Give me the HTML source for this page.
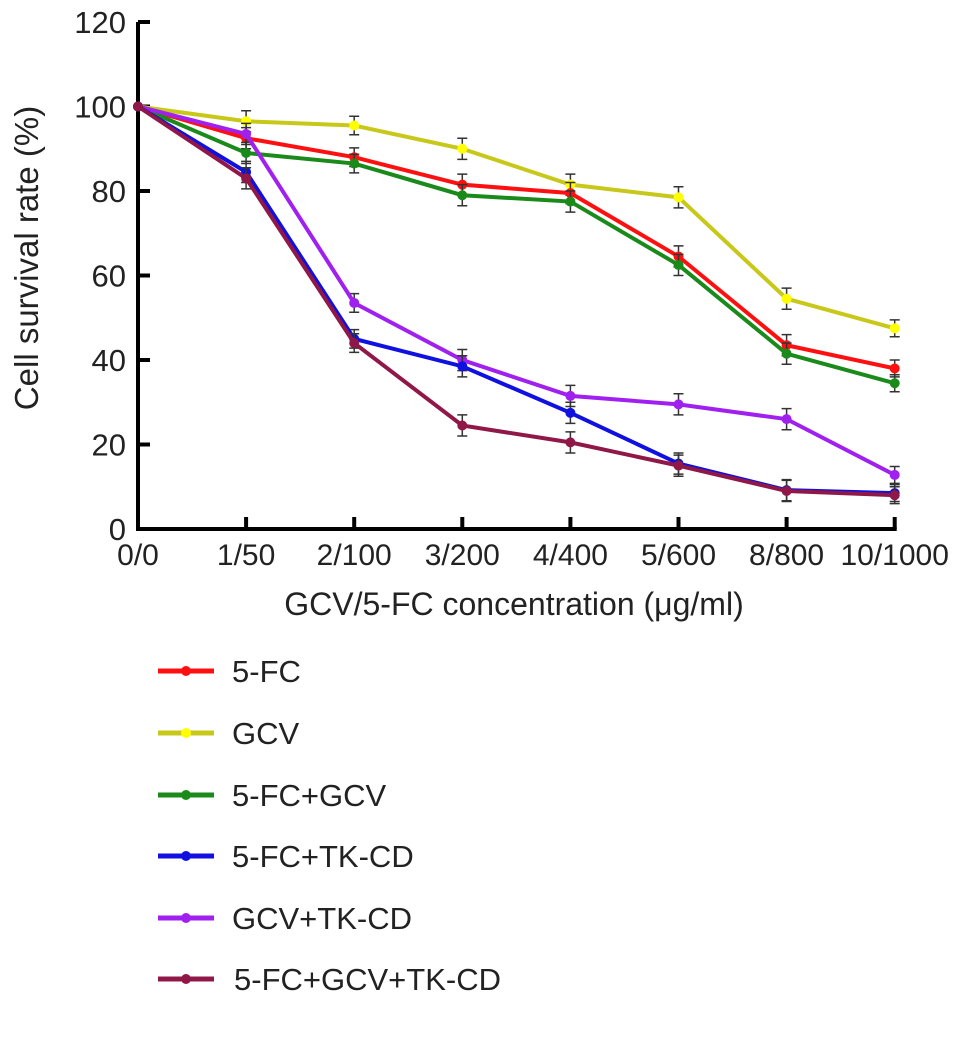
<!DOCTYPE html>
<html><head><meta charset="utf-8"><style>body{margin:0;background:#fff}svg{display:block}text{font-family:"Liberation Sans",Arial,sans-serif;fill:#222}</style></head>
<body>
<svg id="chart" width="969" height="1056" viewBox="0 0 969 1056"></svg>
<script>
const categories=["0/0","1/50","2/100","3/200","4/400","5/600","8/800","10/1000"];
const yTicks=[0,20,40,60,80,100,120];
const seriesNames=["5-FC","GCV","5-FC+GCV","5-FC+TK-CD","GCV+TK-CD","5-FC+GCV+TK-CD"];
const seriesColors=["#ff1010","#c8c81a","#1a8a1a","#1010e0","#a020f0","#901848"];
const markerColors=["#ff1010","#ffff00","#1a8a1a","#1010e0","#a020f0","#901848"];
const s5FC=[100,92.5,88,81.5,79.5,64.5,43.5,38];
const sGCV=[100,96.5,95.5,90,81.5,78.5,54.5,47.5];
const s5FCGCV=[100,89,86.5,79,77.5,62.5,41.5,34.5];
const s5FCTK=[100,84.5,45,38.5,27.5,15.5,9.2,8.5];
const sGCVTK=[100,93.5,53.5,40,31.5,29.5,26,12.8];
const sAll=[100,83,44,24.5,20.5,15,9,8];
const errs=[2,2.5,2.2,2.5,2.5,2.5,2.5,2];
const allSeries=[s5FC,sGCV,s5FCGCV,s5FCTK,sGCVTK,sAll];
const NS="http://www.w3.org/2000/svg";
const svg=document.getElementById('chart');
const x0=138,dx=108.1,y0=529,yTop=22;
const X=i=>x0+i*dx;
const Y=v=>y0-(v/120)*(y0-yTop);
function mk(t,a,p){const e=document.createElementNS(NS,t);for(const k in a)e.setAttribute(k,a[k]);(p||svg).appendChild(e);return e;}
let ax=mk('line',{x1:x0,y1:Y(120),x2:x0,y2:y0+1,stroke:'#000','stroke-width':4});


ax=mk('line',{x1:x0-2,y1:y0,x2:X(7)+2,y2:y0,stroke:'#000','stroke-width':4});


yTicks.forEach(v=>{
  mk('line',{x1:x0,y1:Y(v),x2:x0+12,y2:Y(v),stroke:'#000','stroke-width':4});
  const t=mk('text',{x:x0-12,y:Y(v)+11,'font-size':31,'text-anchor':'end'});t.textContent=v;
  
  
});
categories.forEach((c,i)=>{
  mk('line',{x1:X(i),y1:y0,x2:X(i),y2:y0-12,stroke:'#000','stroke-width':4});
  const t=mk('text',{x:X(i),y:565,'font-size':30,'text-anchor':'middle'});t.textContent=c;
  
  
});
let t=mk('text',{x:514,y:615,'font-size':32,'text-anchor':'middle'});t.textContent="GCV/5-FC concentration (μg/ml)";


t=mk('text',{x:0,y:0,'font-size':33,'text-anchor':'middle',transform:'translate(38,258) rotate(-90)'});t.textContent="Cell survival rate (%)";


const order=[1,0,2,4,3,5];
order.forEach(si=>{
  const d=allSeries[si];
  const g=mk('g',{});
  
  
  d.forEach((v,i)=>{if(i>0){const e=errs[i];
    mk('path',{d:`M${X(i)} ${Y(v+e)}V${Y(v-e)}M${X(i)-5} ${Y(v+e)}h10M${X(i)-5} ${Y(v-e)}h10`,stroke:'#333','stroke-width':1.5,fill:'none'},g);}});
  mk('polyline',{points:d.map((v,i)=>X(i)+','+Y(v)).join(' '),fill:'none',stroke:seriesColors[si],'stroke-width':4},g);
  d.forEach((v,i)=>mk('circle',{cx:X(i),cy:Y(v),r:5,fill:markerColors[si]},g));
});
const ly=[671,733,795,856,918,979];
seriesNames.forEach((n,i)=>{
  const g=mk('g',{});
  
  
  mk('line',{x1:158,y1:ly[i],x2:214,y2:ly[i],stroke:seriesColors[i],'stroke-width':5},g);
  mk('circle',{cx:186,cy:ly[i],r:5,fill:markerColors[i]},g);
  const tt=mk('text',{x:i==5?234:232,y:ly[i]+11,'font-size':31},g);tt.textContent=n;
});
</script>
</body></html>
